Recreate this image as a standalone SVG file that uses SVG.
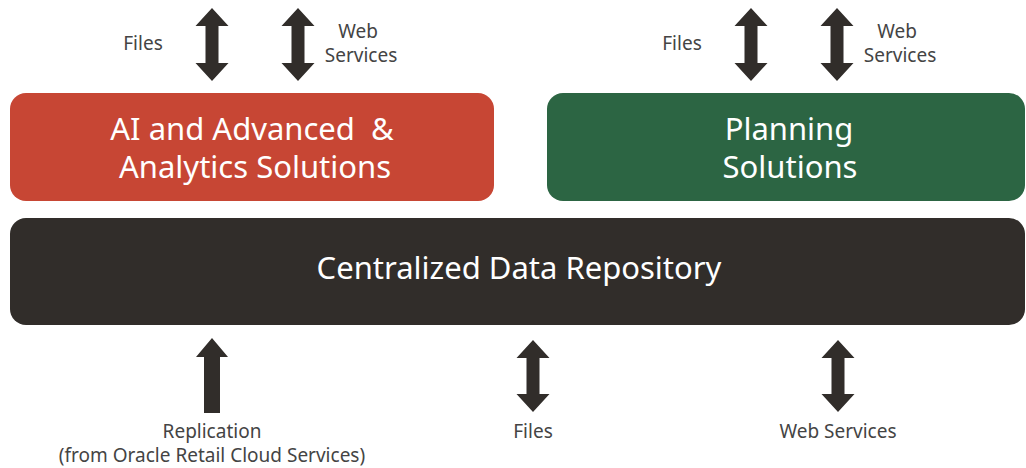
<svg xmlns="http://www.w3.org/2000/svg" width="1026" height="468" viewBox="0 0 1026 468">
<style>
.lbl{font-family:"Noto Sans","Open Sans",sans-serif;font-size:19px;fill:#444444;text-anchor:middle}
.ttl{font-family:"Noto Sans","Open Sans",sans-serif;font-size:31px;fill:#ffffff;text-anchor:middle}
.arr{fill:#312D2A}
</style>
<rect width="1026" height="468" fill="#ffffff"/>
<g id="ai-solutions">
<rect x="10" y="93" width="484" height="108" rx="16" fill="#C74634"/>
<text class="ttl" x="252" y="140" xml:space="preserve">AI and Advanced  &amp;</text>
<text class="ttl" x="255" y="178">Analytics Solutions</text>
</g>
<g id="planning-solutions">
<rect x="547" y="93" width="478" height="108" rx="16" fill="#2C6543"/>
<text class="ttl" x="789" y="140">Planning</text>
<text class="ttl" x="790" y="178">Solutions</text>
</g>
<g id="data-repository">
<rect x="10" y="218" width="1015" height="107" rx="16" fill="#312D2A"/>
<text class="ttl" x="519" y="279">Centralized Data Repository</text>
</g>
<g id="connectors">
<path class="arr" d="M212,8 L228.5,26 L218.5,26 L218.5,63 L228.5,63 L212,81 L195.5,63 L205.5,63 L205.5,26 L195.5,26 Z"/>
<path class="arr" d="M298,8 L314.5,26 L304.5,26 L304.5,63 L314.5,63 L298,81 L281.5,63 L291.5,63 L291.5,26 L281.5,26 Z"/>
<path class="arr" d="M751,8 L767.5,26 L757.5,26 L757.5,63 L767.5,63 L751,81 L734.5,63 L744.5,63 L744.5,26 L734.5,26 Z"/>
<path class="arr" d="M837,8 L853.5,26 L843.5,26 L843.5,63 L853.5,63 L837,81 L820.5,63 L830.5,63 L830.5,26 L820.5,26 Z"/>
<path class="arr" d="M212,338 L228,357 L220,357 L220,413 L204,413 L204,357 L196,357 Z"/>
<path class="arr" d="M533,340 L549.5,358 L539.5,358 L539.5,394 L549.5,394 L533,412 L516.5,394 L526.5,394 L526.5,358 L516.5,358 Z"/>
<path class="arr" d="M838,340 L854.5,358 L844.5,358 L844.5,394 L854.5,394 L838,412 L821.5,394 L831.5,394 L831.5,358 L821.5,358 Z"/>
</g>
<g id="labels">
<text class="lbl" x="143" y="50">Files</text>
<text class="lbl" x="358" y="38">Web</text>
<text class="lbl" x="361" y="62">Services</text>
<text class="lbl" x="682" y="50">Files</text>
<text class="lbl" x="897" y="38">Web</text>
<text class="lbl" x="900" y="62">Services</text>
<text class="lbl" x="212" y="438">Replication</text>
<text class="lbl" x="212" y="462">(from Oracle Retail Cloud Services)</text>
<text class="lbl" x="533" y="438">Files</text>
<text class="lbl" x="838" y="438">Web Services</text>
</g>
</svg>
